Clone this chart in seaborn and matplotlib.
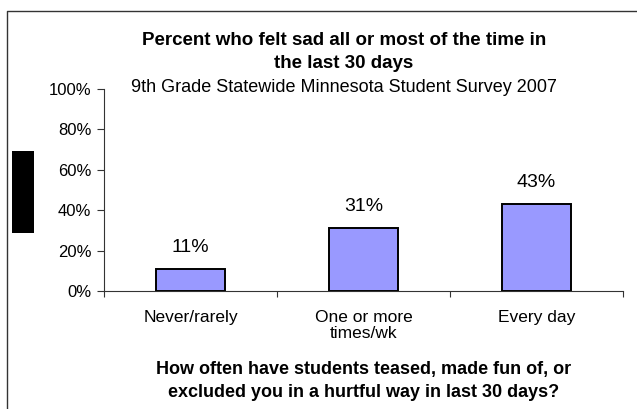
import pandas as pd
import seaborn as sns
import matplotlib.pyplot as plt
from matplotlib.patches import Rectangle
from matplotlib.lines import Line2D
from matplotlib.ticker import PercentFormatter

categories = ['Never/rarely', 'One or more\ntimes/wk', 'Every day']
percent_sad = [11, 31, 43]
y_ticks = [0, 20, 40, 60, 80, 100]

title_text = 'Percent who felt sad all or most of the time in\nthe last 30 days'
subtitle_text = '9th Grade Statewide Minnesota Student Survey 2007'
xlabel_text = 'How often have students teased, made fun of, or\nexcluded you in a hurtful way in last 30 days?'

df = pd.DataFrame({'category': categories, 'percent': percent_sad})

sns.set_theme(style='white')
plt.rcParams['font.family'] = ['Liberation Sans', 'DejaVu Sans']
plt.rcParams['text.color'] = 'black'

fig = plt.figure(figsize=(6.37, 4.09), dpi=100)
ax = fig.add_axes([104 / 637, 1 - 291 / 409, (623 - 104) / 637, (291 - 89) / 409])

sns.barplot(data=df, x='category', y='percent', ax=ax, width=0.4,
            color='#9999FF', saturation=1, edgecolor='black', linewidth=1.4)

ax.set_xlim(-0.5, 2.5)
ax.set_ylim(0, 100)
ax.set_yticks(y_ticks)
ax.yaxis.set_major_formatter(PercentFormatter(decimals=0))
ax.set_xlabel('')
ax.set_ylabel('')

sns.despine(ax=ax)
for side in ['left', 'bottom']:
    ax.spines[side].set_color('#333333')
    ax.spines[side].set_linewidth(0.8)

ax.tick_params(axis='y', which='major', left=True, length=5, width=0.8,
               color='#333333', labelsize=12, pad=4, labelcolor='black')
ax.set_xticks([-0.5, 0.5, 1.5, 2.5], minor=True)
ax.tick_params(axis='x', which='minor', bottom=True, length=4, width=0.8, color='#333333')
ax.tick_params(axis='x', which='major', bottom=False, length=0, labelsize=12.5,
               pad=14, labelcolor='black')
for lbl in ax.get_xticklabels():
    lbl.set_linespacing(1.05)

ax.bar_label(ax.containers[0], labels=[f'{v}%' for v in percent_sad],
             padding=9.5, fontsize=14, color='black')

fig.text(344 / 637, 1 - 52 / 409, title_text, ha='center', va='center',
         fontsize=13.5, fontweight='bold', linespacing=1.4)
fig.text(344 / 637, 1 - 88 / 409, subtitle_text, ha='center', va='center', fontsize=13)
fig.text(364 / 637, 1 - 381 / 409, xlabel_text, ha='center', va='center',
         fontsize=13, fontweight='bold', linespacing=1.4)

# outer chart frame and the black block on the left
fig.add_artist(Line2D([7 / 637, 7 / 637, 1.0], [0.0, 1 - 11 / 409, 1 - 11 / 409],
                      transform=fig.transFigure, color='#333333', linewidth=1))
fig.add_artist(Rectangle((12 / 637, 1 - 233 / 409), 22 / 637, 82 / 409,
                         transform=fig.transFigure, facecolor='black', edgecolor='none'))

plt.savefig('out.png', dpi=100)
